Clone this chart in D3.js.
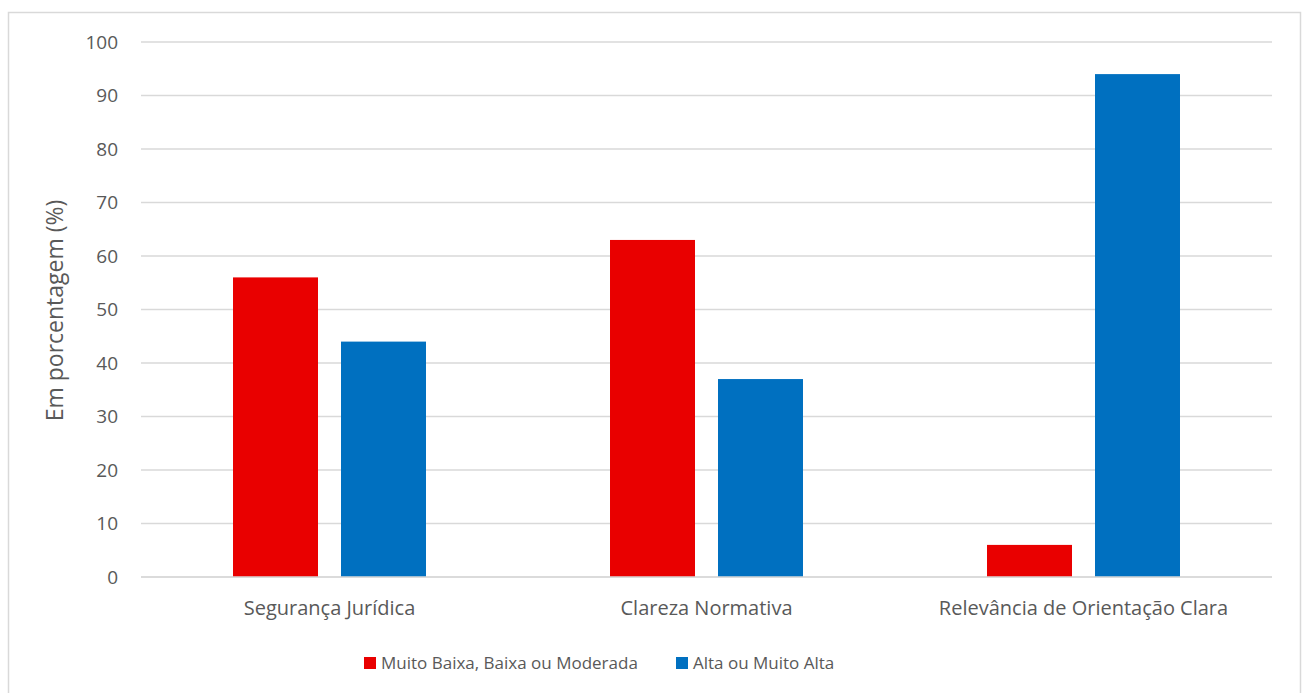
<!DOCTYPE html>
<html>
<head>
<meta charset="utf-8">
<script src="https://cdn.jsdelivr.net/npm/d3@7"></script>
<style>
  body { margin: 0; background: #fff; overflow: hidden; }
  svg { display: block; }
  svg text { font-family: "Open Sans", "Noto Sans", sans-serif; fill: #595959; }
</style>
</head>
<body>
<svg id="chart"></svg>
<script>
// chart data
const categories = ["Segurança Jurídica", "Clareza Normativa", "Relevância de Orientação Clara"];
const seriesNames = ["Muito Baixa, Baixa ou Moderada", "Alta ou Muito Alta"];
const lowValues = [56, 63, 6];
const highValues = [44, 37, 94];
const yTicks = [0, 10, 20, 30, 40, 50, 60, 70, 80, 90, 100];
const colors = ["#e90000", "#0070c0"];

const width = 1303, height = 693;
const margin = { top: 42, right: 31, bottom: 116, left: 141 };
const innerWidth = width - margin.left - margin.right;
const innerHeight = height - margin.top - margin.bottom;

const svg = d3.select("#chart").attr("width", width).attr("height", height);

// outer border (bottom edge runs past the picture)
svg.append("path")
  .attr("d", `M8.5,${height} V12.5 H1300.5 V${height}`)
  .attr("fill", "none").attr("stroke", "#d9d9d9").attr("stroke-width", 1.5);

const g = svg.append("g").attr("transform", `translate(${margin.left},${margin.top})`);

const x0 = d3.scaleBand().domain(categories).range([0, innerWidth]);
const x1 = d3.scaleBand().domain(seriesNames).range([0, x0.bandwidth()]).paddingInner(0.213).paddingOuter(0.852);
const y = d3.scaleLinear().domain([0, 100]).range([innerHeight, 0]);

// gridlines
g.append("g")
  .selectAll("line")
  .data(yTicks)
  .join("line")
  .attr("x1", 0).attr("x2", innerWidth)
  .attr("y1", d => y(d)).attr("y2", d => y(d))
  .attr("stroke", "#d9d9d9").attr("stroke-width", 1.5);

// y tick labels
const yAxis = g.append("g")
  .call(d3.axisLeft(y).tickValues(yTicks).tickSize(0).tickPadding(23));
yAxis.select(".domain").remove();
yAxis.selectAll("text")
  .style("font-size", "19px")
  .style("font-family", "'Open Sans', sans-serif")
  .attr("fill", "#595959");

// bars
const rows = categories.map((c, i) => ({ cat: c, vals: [lowValues[i], highValues[i]] }));
g.selectAll(".grp")
  .data(rows)
  .join("g")
  .attr("transform", d => `translate(${x0(d.cat)},0)`)
  .selectAll("rect")
  .data(d => d.vals.map((v, j) => ({ name: seriesNames[j], v, j })))
  .join("rect")
  .attr("x", d => x1(d.name))
  .attr("width", x1.bandwidth())
  .attr("y", d => y(d.v))
  .attr("height", d => innerHeight - y(d.v))
  .attr("fill", d => colors[d.j]);

// baseline on top
g.append("line")
  .attr("x1", 0).attr("x2", innerWidth)
  .attr("y1", y(0)).attr("y2", y(0))
  .attr("stroke", "#d9d9d9").attr("stroke-width", 1.5);

// x labels
const xAxis = g.append("g")
  .attr("transform", `translate(0,${innerHeight})`)
  .call(d3.axisBottom(x0).tickSize(0).tickPadding(24));
xAxis.select(".domain").remove();
xAxis.selectAll("text")
  .style("font-size", "20px")
  .style("font-family", "'Open Sans', sans-serif")
  .attr("fill", "#595959");

// y axis title
svg.append("text")
  .attr("transform", `translate(63,${margin.top + innerHeight / 2 + 1}) rotate(-90)`)
  .attr("text-anchor", "middle")
  .style("font-size", "23px")
  .text("Em porcentagem (%)");

// legend
const legendX = [364, 676];
const legend = svg.selectAll(".legend")
  .data(seriesNames)
  .join("g")
  .attr("transform", (d, i) => `translate(${legendX[i]},657)`);
legend.append("rect")
  .attr("width", 12).attr("height", 12)
  .attr("fill", (d, i) => colors[i]);
legend.append("text")
  .attr("x", 17).attr("y", 6)
  .attr("dy", "0.35em")
  .style("font-size", "17px")
  .text(d => d);
</script>
</body>
</html>
